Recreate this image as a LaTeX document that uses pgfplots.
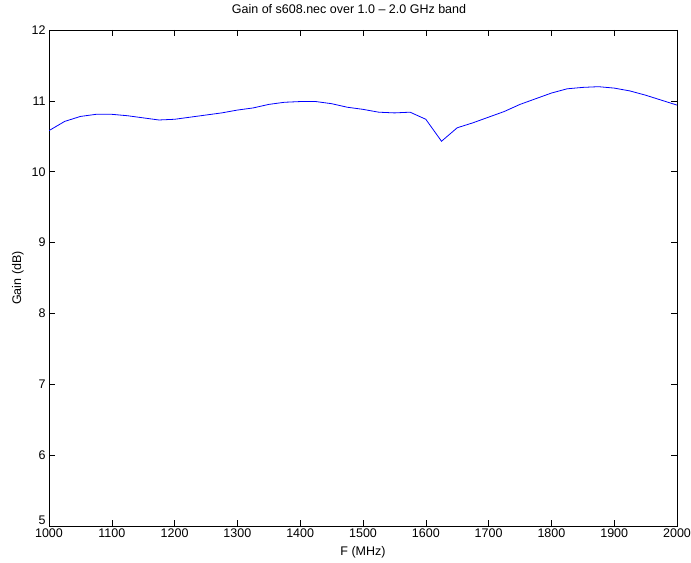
\documentclass[border=0pt]{standalone}
\usepackage{fontspec}
\setmainfont{Liberation Sans}
\usepackage{pgfplots}
\pgfplotsset{compat=1.18}
\begin{document}
\fontsize{12.5bp}{15bp}\selectfont
\begin{tikzpicture}
\begin{axis}[
  scale only axis,
  width=628bp, height=496bp,
  xmin=1000, xmax=2000, ymin=5, ymax=12,
  xtick={1000,1100,...,2000},
  ytick={6,7,...,12},
  extra y ticks={5},
  extra y tick style={yticklabel style={yshift=6bp}},
  tick align=inside,
  xtick pos=both, ytick pos=both,
  major tick length=6bp,
  axis line style={line width=0.8bp},
  tick style={line width=0.5bp, black},
  /pgf/number format/assume math mode=true,
  /pgf/number format/1000 sep={},
  tick label style={font=\fontsize{12.5bp}{15bp}\selectfont},
  label style={font=\fontsize{12.5bp}{15bp}\selectfont},
  title style={font=\fontsize{12.5bp}{15bp}\selectfont, at={(axis description cs:0.5,1)}, anchor=base, yshift=11bp, xshift=-14bp},
  xticklabel style={yshift=2bp},
  yticklabel style={xshift=1bp},
  title={Gain of s608.nec over 1.0 -- 2.0 GHz band},
  xlabel={F (MHz)},
  ylabel={Gain (dB)},
  xlabel style={at={(axis description cs:0.5,0)}, anchor=base, yshift=-29bp},
  ylabel style={at={(axis description cs:-0.0494,0.5)}, anchor=center},
]
\addplot[color={rgb,255:red,0;green,0;blue,255}, line width=0.8bp, mark=none] coordinates {
(1000,10.58) (1025,10.71) (1050,10.78) (1075,10.81) (1100,10.81)
(1125,10.79) (1150,10.76) (1175,10.73) (1200,10.74) (1225,10.77)
(1250,10.80) (1275,10.83) (1300,10.87) (1325,10.90) (1350,10.95)
(1375,10.98) (1400,10.99) (1425,10.99) (1450,10.96) (1475,10.91)
(1500,10.88) (1525,10.84) (1550,10.83) (1575,10.84) (1600,10.74)
(1625,10.43) (1650,10.62) (1675,10.69) (1700,10.77) (1725,10.85)
(1750,10.95) (1775,11.03) (1800,11.11) (1825,11.17) (1850,11.19)
(1875,11.20) (1900,11.18) (1925,11.14) (1950,11.08) (1975,11.01)
(2000,10.94)
};
\coordinate (bl) at (rel axis cs:0,0);
\coordinate (tr) at (rel axis cs:1,1);
\end{axis}
\pgfresetboundingbox
\path (bl) ++(-49bp,-37bp) coordinate (BB1);
\path (tr) ++(14bp,30bp) coordinate (BB2);
\useasboundingbox (BB1) rectangle (BB2);
\end{tikzpicture}
\end{document}
